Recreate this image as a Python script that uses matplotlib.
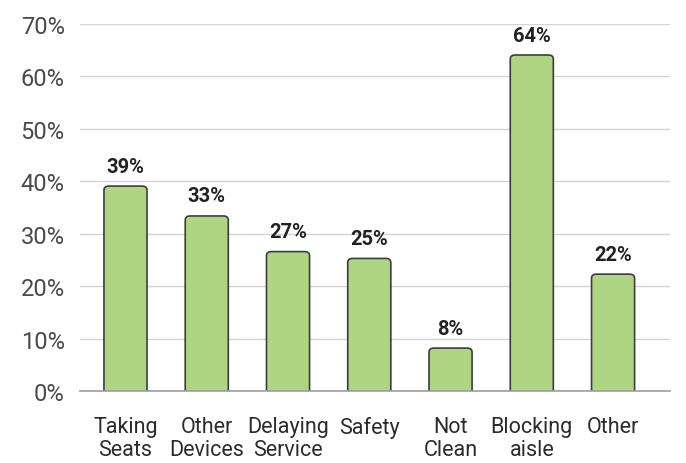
import numpy as np
import matplotlib.pyplot as plt
from matplotlib.patches import FancyBboxPatch

# data
categories = ["Taking\nSeats", "Other\nDevices", "Delaying\nService", "Safety",
              "Not\nClean", "Blocking\naisle", "Other"]
values = [39.1, 33.4, 26.6, 25.3, 8.2, 64.1, 22.3]
yticks = [0, 10, 20, 30, 40, 50, 60, 70]

plt.rcParams['font.family'] = ['Roboto', 'DejaVu Sans']

fig = plt.figure(figsize=(6.86, 4.64), dpi=100)
ax = fig.add_axes([0.1166, 0.155, 0.86, 0.791])

x = np.arange(len(categories))
bars = ax.bar(x, values, width=0.53, color='#aed581', edgecolor='#3d3d3d', linewidth=1.2)

# replace plain rectangles with slightly rounded ones
for b in bars:
    bx, by = b.get_x(), b.get_y()
    w, h = b.get_width(), b.get_height()
    p = FancyBboxPatch((bx, by - 3), w, h + 3,
                       boxstyle="round,pad=0,rounding_size=0.06",
                       mutation_aspect=13,
                       facecolor='#aed581', edgecolor='#3d3d3d', linewidth=1.2,
                       zorder=3, clip_on=True)
    ax.add_patch(p)
    b.set_visible(False)
    ax.text(bx + w / 2, h + 2.0, f"{h:.0f}%", ha='center', va='bottom',
            fontsize=14.5, fontweight='bold', color='#222222', zorder=4)

ax.set_xlim(-0.56, 6.7)
ax.set_ylim(0, 70)
ax.set_yticks(yticks)
ax.set_yticklabels([f"{t}%" for t in yticks])
ax.set_xticks(x)
ax.set_xticklabels(categories, linespacing=1.12)

ax.grid(axis='y', color='#d4d4d4', linewidth=1)
ax.set_axisbelow(True)
for s in ['top', 'right', 'left']:
    ax.spines[s].set_visible(False)
ax.spines['bottom'].set_color('#9e9e9e')
ax.spines['bottom'].set_linewidth(1.2)
ax.spines['bottom'].set_zorder(5)

ax.tick_params(axis='y', length=0, pad=11, labelsize=17, labelcolor='#4a4a4a')
ax.tick_params(axis='x', length=0, pad=18, labelsize=15.5, labelcolor='#2b2b2b')

fig.savefig('out.png', dpi=100)
